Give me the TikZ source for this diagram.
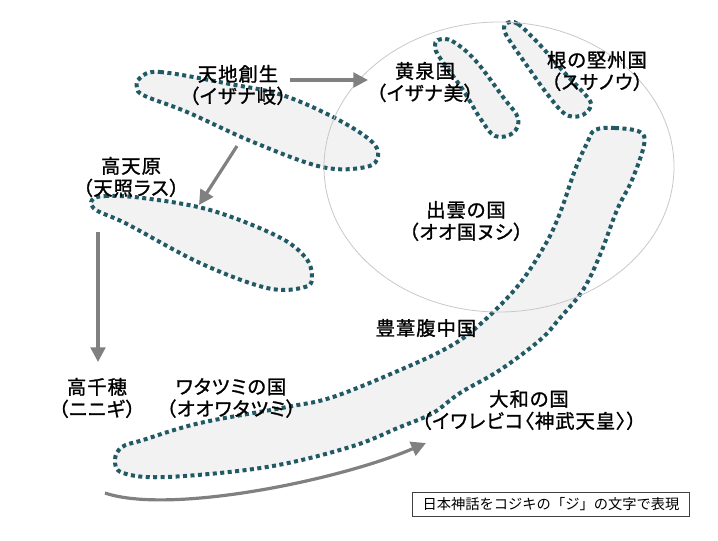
\documentclass[tikz,border=0pt]{standalone}
\usepackage{fontspec}
\setmainfont{Noto Sans CJK JP}
\newfontfamily\placefont{Noto Sans CJK JP}[RawFeature={+palt}, LetterSpace=5, FakeBold=1.2]
\usepackage{xcolor}
\usepackage{tikz}
\usetikzlibrary{arrows.meta, positioning, calc}

\definecolor{dotteal}{HTML}{215A65}
\definecolor{landfill}{HTML}{F2F2F2}
\definecolor{flowgray}{HTML}{808080}
\definecolor{ringgray}{HTML}{C8C8C8}

\tikzset{
    land/.style={draw=dotteal, fill=landfill, line width=3pt, dash pattern=on 3pt off 2.6pt},
    flow/.style={draw=flowgray, line width=2.4pt, -{Triangle[length=11pt, width=11pt]}},
    ring/.style={draw=ringgray, line width=0.6pt},
    place/.style={align=center, inner sep=0pt, font=\placefont\fontsize{14.5}{16.5}\selectfont},
    notebox/.style={draw=black!75, line width=0.6pt, inner sep=0pt, minimum width=208pt, minimum height=18pt, font=\fontsize{10.7}{13}\selectfont}
}

\begin{document}
\begin{tikzpicture}[x=0.75pt, y=-0.75pt]
    \useasboundingbox (0,0) rectangle (718,540);

    % the strokes of the letter
    \draw[land] plot[smooth cycle, tension=0.6] coordinates {(140,78) (160,72) (230,84) (282,95) (333,117) (370,140) (378,156) (366,167) (322,167) (253,142) (187,112) (145,96) (137,88)};
    \draw[land] plot[smooth cycle, tension=0.6] coordinates {(92,200) (105,196) (143,198) (210,210) (277,236) (305,257) (312,276) (305,287) (267,288) (200,263) (127,224) (96,210)};
    \draw[land] plot[smooth cycle, tension=0.6] coordinates {(438,40) (452,41) (475,60) (503,97) (518,118) (513,133) (495,136) (480,118) (463,90) (440,58) (435,47)};
    \draw[land] plot[smooth cycle, tension=0.6] coordinates {(507,23) (518,24) (540,45) (562,70) (588,98) (590,108) (580,116) (565,114) (548,95) (530,70) (508,38) (504,28)};
    \draw[land] plot[smooth cycle, tension=0.6] coordinates {(595,130) (615,128) (640,132) (644,145) (632,180) (617,210) (600,255) (583,290) (560,318) (540,340) (500,370) (460,393) (433,413) (400,427) (350,447) (267,467) (167,477) (123,473) (115,460) (122,447) (143,440) (200,423) (287,407) (333,397) (400,370) (447,348) (477,327) (517,287) (545,245) (560,213) (575,170) (587,143)};

    \coordinate (RingCenter) at (499,167);
    \draw[ring] (RingCenter) ellipse [x radius=175, y radius=145];

    \node[place] (Genesis) at (238,85) {天地創生\\（イザナ岐）};
    \node[place] (Yomi) at (425,82) {黄泉国\\（イザナ美）};
    \node[place] (Ne) at (597,71) {根の堅州国\\（スサノウ）};
    \node[place] (Takama) at (131,177) {高天原\\（天照ラス）};
    \node[place] (Izumo) at (466,221) {出雲の国\\（オオ国ヌシ）};
    \node[place] (Toyo) at (426,328) {豊葦腹中国};
    \node[place] (Takachiho) at (97,398) {高千穂\\（ニニギ）};
    \node[place] (Wata) at (231,398) {ワタツミの国\\（オオワタツミ）};
    \node[place] (Yamato) at (529,410) {大和の国\\（イワレビコ〈神武天皇〉）};
    \node[notebox] (Note) at (551,504) {日本神話をコジキの「ジ」の文字で表現};

    % arrows of the story
    \coordinate (GenesisOut) at (290,80);
    \coordinate (YomiIn) at (368,80);
    \coordinate (GenesisDown) at (237,146);
    \coordinate (TakamaIn) at (199,205);
    \coordinate (TakamaOut) at (98,232);
    \coordinate (TakachihoIn) at (98,362);
    \coordinate (SeaOut) at (105,493);
    \coordinate (YamatoIn) at (426,443);

    \draw[flow] (GenesisOut) -- (YomiIn);
    \draw[flow] (GenesisDown) -- (TakamaIn);
    \draw[flow] (TakamaOut) -- (TakachihoIn);
    \draw[flow] (SeaOut) .. controls (170,515) and (340,480) .. (YamatoIn);
\end{tikzpicture}
\end{document}
